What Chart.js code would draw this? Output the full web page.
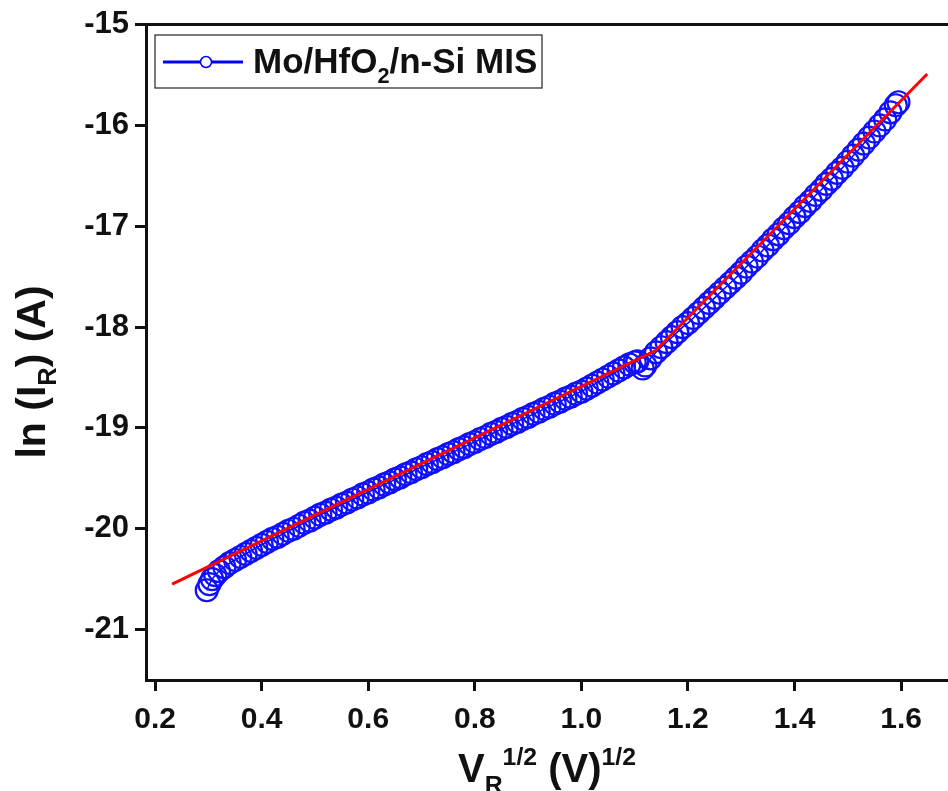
<!DOCTYPE html>
<html>
<head>
<meta charset="utf-8">
<script src="https://cdn.jsdelivr.net/npm/chart.js@4.4.1/dist/chart.umd.min.js"></script>
<style>
	html, body { margin: 0; padding: 0; background: #fff; }
	canvas { display: block; }
</style>
</head>
<body>
<canvas id="chart" width="948" height="791"></canvas>
<script>
const vR = [
	0.297, 0.302, 0.307, 0.313, 0.32, 0.33, 0.34, 0.35, 0.36, 0.37, 0.38, 0.39,
	0.40, 0.41, 0.42, 0.43, 0.44, 0.45, 0.46, 0.47, 0.48, 0.49,
	0.50, 0.51, 0.52, 0.53, 0.54, 0.55, 0.56, 0.57, 0.58, 0.59,
	0.60, 0.61, 0.62, 0.63, 0.64, 0.65, 0.66, 0.67, 0.68, 0.69,
	0.70, 0.71, 0.72, 0.73, 0.74, 0.75, 0.76, 0.77, 0.78, 0.79,
	0.80, 0.81, 0.82, 0.83, 0.84, 0.85, 0.86, 0.87, 0.88, 0.89,
	0.90, 0.91, 0.92, 0.93, 0.94, 0.95, 0.96, 0.97, 0.98, 0.99,
	1.00, 1.01, 1.02, 1.03, 1.04, 1.05, 1.06, 1.07, 1.08, 1.09,
	1.10, 1.105, 1.115, 1.12, 1.13, 1.14, 1.15, 1.16, 1.17, 1.18, 1.19,
	1.20, 1.21, 1.22, 1.23, 1.24, 1.25, 1.26, 1.27, 1.28, 1.29,
	1.30, 1.31, 1.32, 1.33, 1.34, 1.35, 1.36, 1.37, 1.38, 1.39,
	1.40, 1.41, 1.42, 1.43, 1.44, 1.45, 1.46, 1.47, 1.48, 1.49,
	1.50, 1.51, 1.52, 1.53, 1.54, 1.55, 1.56, 1.57, 1.58, 1.59, 1.595,
]
const lnIR = [
	-20.61, -20.55, -20.50, -20.46, -20.42, -20.38, -20.34, -20.31, -20.28, -20.25, -20.22, -20.19,
	-20.16, -20.13, -20.10, -20.08, -20.05, -20.02, -20.00, -19.97, -19.94, -19.92,
	-19.89, -19.86, -19.84, -19.81, -19.79, -19.76, -19.74, -19.71, -19.69, -19.66,
	-19.64, -19.61, -19.59, -19.56, -19.54, -19.51, -19.49, -19.46, -19.44, -19.41,
	-19.39, -19.36, -19.34, -19.31, -19.29, -19.26, -19.24, -19.21, -19.19, -19.16,
	-19.14, -19.11, -19.09, -19.06, -19.04, -19.01, -18.99, -18.96, -18.94, -18.91,
	-18.89, -18.86, -18.84, -18.81, -18.79, -18.76, -18.74, -18.71, -18.69, -18.66,
	-18.64, -18.61, -18.58, -18.55, -18.52, -18.49, -18.46, -18.43, -18.40, -18.37,
	-18.35, -18.34, -18.41, -18.38, -18.31, -18.25, -18.20, -18.15, -18.10, -18.05, -18.00,
	-17.96, -17.91, -17.86, -17.81, -17.76, -17.71, -17.66, -17.61, -17.56, -17.51,
	-17.46, -17.40, -17.35, -17.30, -17.24, -17.19, -17.13, -17.08, -17.02, -16.97,
	-16.91, -16.86, -16.80, -16.75, -16.69, -16.64, -16.58, -16.53, -16.47, -16.42,
	-16.36, -16.30, -16.24, -16.18, -16.12, -16.06, -16.00, -15.94, -15.87, -15.80, -15.77,
]

// the two red linear fits
const fitLowX = [0.232, 1.14]
const fitLowY = [-20.55, -18.23]
const fitHighX = [1.14, 1.649]
const fitHighY = [-18.23, -15.49]

const xTicks = [0.2, 0.4, 0.6, 0.8, 1.0, 1.2, 1.4, 1.6]
const yTicks = [-21, -20, -19, -18, -17, -16, -15]

const seriesName = ['Mo/HfO', '2', '/n-Si MIS']

const FONT = '"Liberation Sans", Arial, sans-serif'
const INK = '#111'

function toPoints(xs, ys) {
	return xs.map((x, i) => ({ x: x, y: ys[i] }))
}

// text pieces: [text, 'n' | 'sub' | 'sup']
function drawRich(ctx, parts, x, y, size) {
	parts.forEach((p) => {
		let s = p[1] === 'n' ? size : size * 0.62
		let dy = p[1] === 'sub' ? size * 0.28 : p[1] === 'sup' ? -size * 0.42 : 0
		ctx.font = 'bold ' + s + 'px ' + FONT
		ctx.fillText(p[0], x, y + dy)
		x += ctx.measureText(p[0]).width
	})
	return x
}

function richWidth(ctx, parts, size) {
	let w = 0
	parts.forEach((p) => {
		let s = p[1] === 'n' ? size : size * 0.62
		ctx.font = 'bold ' + s + 'px ' + FONT
		w += ctx.measureText(p[0]).width
	})
	return w
}

const decorations = {
	id: 'decorations',
	afterDraw(chart) {
		const ctx = chart.ctx
		const area = chart.chartArea
		ctx.save()

		// top frame line
		ctx.strokeStyle = INK
		ctx.lineWidth = 3
		ctx.beginPath()
		ctx.moveTo(area.left - 1.5, area.top)
		ctx.lineTo(chart.width, area.top)
		ctx.stroke()

		// legend box
		ctx.lineWidth = 1.2
		ctx.strokeStyle = '#222'
		ctx.strokeRect(155, 35, 387, 53)
		ctx.strokeStyle = '#0000ff'
		ctx.lineWidth = 3
		ctx.beginPath()
		ctx.moveTo(163, 62)
		ctx.lineTo(243, 62)
		ctx.stroke()
		ctx.fillStyle = '#fff'
		ctx.lineWidth = 1.5
		ctx.beginPath()
		ctx.arc(206, 62, 5.5, 0, Math.PI * 2)
		ctx.fill()
		ctx.stroke()

		ctx.fillStyle = INK
		ctx.textBaseline = 'alphabetic'
		ctx.textAlign = 'left'
		drawRich(ctx, [[seriesName[0], 'n'], [seriesName[1], 'sub'], [seriesName[2], 'n']], 253, 73, 35)

		// x axis title
		const xParts = [['V', 'n'], ['R', 'sub'], ['1/2', 'sup'], [' (V)', 'n'], ['1/2', 'sup']]
		const xw = richWidth(ctx, xParts, 40)
		drawRich(ctx, xParts, 547 - xw / 2, 782, 40)

		// y axis title
		const yParts = [['ln (I', 'n'], ['R', 'sub'], [') (A)', 'n']]
		const yw = richWidth(ctx, yParts, 41)
		ctx.translate(45, 372)
		ctx.rotate(-Math.PI / 2)
		drawRich(ctx, yParts, -yw / 2, 0, 41)

		ctx.restore()
	},
}

const axisLook = {
	grid: {
		display: true,
		drawOnChartArea: false,
		drawTicks: true,
		tickLength: 11,
		tickWidth: 3,
		color: INK,
	},
	border: { display: true, color: INK, width: 3 },
}

const chart = new Chart(document.getElementById('chart'), {
	type: 'scatter',
	data: {
		datasets: [
			{
				label: 'fit low',
				data: toPoints(fitLowX, fitLowY),
				showLine: true,
				borderColor: '#ff0000',
				borderWidth: 3,
				pointRadius: 0,
				order: 0,
			},
			{
				label: 'fit high',
				data: toPoints(fitHighX, fitHighY),
				showLine: true,
				borderColor: '#ff0000',
				borderWidth: 3,
				pointRadius: 0,
				order: 0,
			},
			{
				label: 'Mo/HfO2/n-Si MIS',
				data: toPoints(vR, lnIR),
				showLine: true,
				borderColor: '#0000ff',
				borderWidth: 1.5,
				pointRadius: 11,
				pointBorderWidth: 2.2,
				pointBorderColor: '#1010ff',
				pointBackgroundColor: 'rgba(255,255,255,0)',
				order: 1,
			},
		],
	},
	options: {
		responsive: false,
		animation: false,
		devicePixelRatio: 1,
		layout: { autoPadding: false, padding: { top: 22, left: 0, right: 0, bottom: 0 } },
		plugins: {
			legend: { display: false },
			tooltip: { enabled: false },
		},
		scales: {
			x: {
				type: 'linear',
				min: 0.183,
				max: 1.688,
				afterBuildTicks: (scale) => {
					scale.ticks = xTicks.map((v) => ({ value: v }))
				},
				afterFit: (scale) => {
					scale.height = 111
					scale.paddingLeft = 0
					scale.paddingRight = 0
				},
				ticks: {
					color: INK,
					padding: 11,
					font: { family: FONT, size: 30, weight: 'bold' },
					callback: (v) => Number(v).toFixed(1),
				},
				...axisLook,
			},
			y: {
				type: 'linear',
				min: -21.5,
				max: -15,
				afterBuildTicks: (scale) => {
					scale.ticks = yTicks.map((v) => ({ value: v }))
				},
				afterFit: (scale) => {
					scale.width = 146
				},
				ticks: {
					color: INK,
					padding: 6,
					font: { family: FONT, size: 31, weight: 'bold' },
					callback: (v) => String(v),
				},
				...axisLook,
			},
		},
	},
	plugins: [decorations],
})
</script>
</body>
</html>
